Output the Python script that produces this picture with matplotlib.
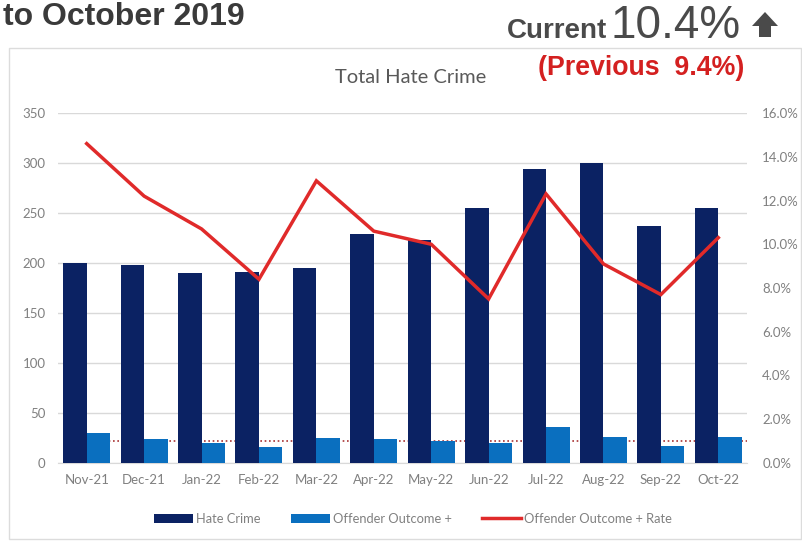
import matplotlib
matplotlib.use("Agg")
import matplotlib.pyplot as plt
import numpy as np
from matplotlib.patches import Rectangle, Polygon

# ---- data ----
months = ["Nov-21", "Dec-21", "Jan-22", "Feb-22", "Mar-22", "Apr-22",
          "May-22", "Jun-22", "Jul-22", "Aug-22", "Sep-22", "Oct-22"]
hate_crime = [200, 198, 190, 191, 195, 229, 223, 255, 294, 300, 237, 255]
offender_outcome = [30, 24, 20, 16, 25, 24, 22, 20, 36, 26, 17, 26]
outcome_rate = [14.6, 12.2, 10.7, 8.4, 12.9, 10.6, 10.0, 7.5, 12.3, 9.1, 7.7, 10.3]
reference_level = 22.5  # dotted reference line (left axis units)

left_ticks = [0, 50, 100, 150, 200, 250, 300, 350]
right_ticks = [0, 2, 4, 6, 8, 10, 12, 14, 16]

headline = "to October 2019"
current_label = "Current"
current_value = "10.4%"
previous_label = "(Previous  9.4%)"
chart_title = "Total Hate Crime"

# ---- styling ----
W, H = 803, 541
NAVY = "#0b2263"
BLUE = "#0a6fbf"
RED = "#e02a2a"
GRID = "#d9d9d9"
TICK = "#808080"
FONT = "Lato"

fig = plt.figure(figsize=(W / 100, H / 100), dpi=100)

def fx(px):
    return px / W

def fy(py):
    return 1 - py / H

# chart frame
fig.patches.append(Rectangle((fx(9), fy(539)), fx(801) - fx(9), fy(48) - fy(539),
                             transform=fig.transFigure, fill=False,
                             edgecolor="#dcdcdc", linewidth=1.0))

ax = fig.add_axes([fx(58), fy(463), fx(747) - fx(58), fy(113) - fy(463)])
ax2 = ax.twinx()

x = np.arange(len(months))
bw = 0.41
ax.bar(x - bw / 2, hate_crime, bw, color=NAVY, zorder=3, label="Hate Crime")
ax.bar(x + bw / 2, offender_outcome, bw, color=BLUE, zorder=3, label="Offender Outcome +")
ax.hlines(reference_level, 0, len(months) - 0.5, colors="#a83232",
          linestyles=(0, (1, 1.6)), linewidth=1.2, zorder=2)

ax2.plot(x, outcome_rate, color=RED, linewidth=2.5, label="Offender Outcome + Rate",
         solid_joinstyle="miter")

ax.set_xlim(-0.5, len(months) - 0.5)
ax.set_ylim(0, 350)
ax2.set_ylim(0, 16)
ax.set_yticks(left_ticks)
ax.set_yticklabels([str(v) for v in left_ticks])
ax2.set_yticks(right_ticks)
ax2.set_yticklabels([f"{v:.1f}%" for v in right_ticks])
ax.set_xticks(x)
ax.set_xticklabels(months)

ax.yaxis.grid(True, color=GRID, linewidth=1.0, zorder=0)
ax.set_axisbelow(True)
for a in (ax, ax2):
    for s in ("top", "left", "right"):
        a.spines[s].set_visible(False)
    a.spines["bottom"].set_color(GRID)
ax2.spines["bottom"].set_visible(False)

ax.tick_params(axis="y", length=0, pad=9, labelsize=9.5, labelcolor=TICK)
ax.tick_params(axis="x", length=0, pad=8, labelsize=9.5, labelcolor=TICK)
ax2.tick_params(axis="y", length=0, pad=11, labelsize=9.5, labelcolor=TICK)
for lab in ax.get_xticklabels() + ax.get_yticklabels() + ax2.get_yticklabels():
    lab.set_fontfamily(FONT)

# legend
h1, l1 = ax.get_legend_handles_labels()
h2, l2 = ax2.get_legend_handles_labels()
leg = fig.legend(h1 + h2, l1 + l2, loc="center", bbox_to_anchor=(fx(413), fy(519)),
                 ncol=3, frameon=False, handlelength=3.0, handleheight=0.75,
                 handletextpad=0.2, columnspacing=2.4,
                 prop={"family": FONT, "size": 9.3})
for t in leg.get_texts():
    t.set_color(TICK)

# texts
fig.text(fx(3), fy(25), headline, fontsize=23, fontweight="bold", color="#3a3a3a",
         family="Liberation Sans", va="baseline", ha="left")
fig.text(fx(507), fy(38), current_label, fontsize=20, fontweight="bold", color="#4a4a4a",
         family="Liberation Sans", va="baseline", ha="left")
fig.text(fx(611), fy(38), current_value, fontsize=33, color="#4a4a4a",
         family="Liberation Sans", va="baseline", ha="left")
fig.text(fx(538), fy(75), previous_label, fontsize=19.3, fontweight="bold", color="#d42020",
         family="Liberation Sans", va="baseline", ha="left")
fig.text(fx(411), fy(83), chart_title, fontsize=14.5, color="#595959",
         family=FONT, va="baseline", ha="center")

# up arrow glyph next to current value
arrow_px = [(765, 12), (778, 26), (771, 26), (771, 37), (759, 37), (759, 26), (752, 26)]
fig.patches.append(Polygon([(fx(a), fy(b)) for a, b in arrow_px], closed=True,
                           transform=fig.transFigure, facecolor="#4a4a4a",
                           edgecolor="none"))

fig.savefig("out.png", dpi=100)
